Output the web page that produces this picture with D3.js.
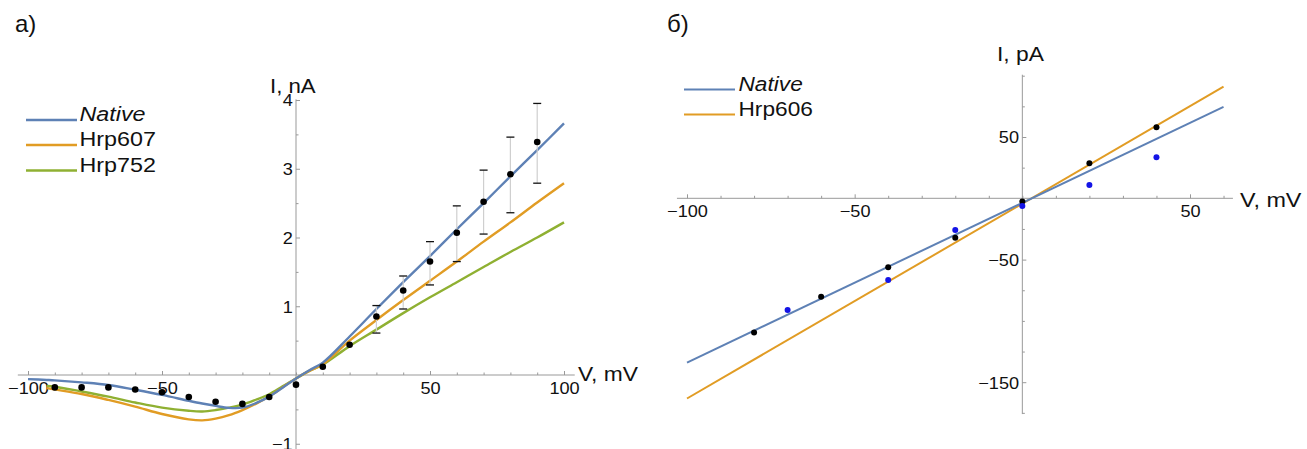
<!DOCTYPE html>
<html>
<head>
<meta charset="utf-8">
<script src="https://cdn.jsdelivr.net/npm/d3@7"></script>
<style>
  html, body { margin: 0; padding: 0; background: #fff; }
  svg { display: block; }
  text { font-family: "Liberation Sans", Arial, sans-serif; fill: #111; }
</style>
</head>
<body>
<svg id="chart" width="1307" height="449"></svg>
<script>
// ---------- Panel a: whole-cell current, nA ----------
const measV      = [-90, -80, -70, -60, -50, -40, -30, -20, -10, 0, 10, 20, 30, 40, 50, 60, 70, 80, 90];
const measI      = [-0.18, -0.18, -0.18, -0.21, -0.25, -0.32, -0.39, -0.42, -0.32, -0.14, 0.12, 0.44, 0.85, 1.23, 1.65, 2.07, 2.52, 2.92, 3.39];
const errV       = [30, 40, 50, 60, 70, 80, 90];
const errHigh    = [1.01, 1.44, 1.94, 2.46, 2.98, 3.46, 3.95];
const errLow     = [0.61, 0.96, 1.31, 1.65, 2.05, 2.36, 2.79];

const fitV       = [-100, -93, -90, -80, -70, -60, -50, -40, -35, -30, -25, -20, -15, -10, -5, 0, 5, 10, 20, 30, 40, 50, 60, 70, 80, 90, 100];
const fitNative  = [-0.06, -0.072, -0.078, -0.107, -0.145, -0.215, -0.29, -0.375, -0.415, -0.45, -0.478, -0.475, -0.41, -0.315, -0.185, -0.05, 0.07, 0.18, 0.56, 0.96, 1.35, 1.73, 2.12, 2.50, 2.89, 3.27, 3.66];
const fitHrp607  = [null, -0.19, -0.21, -0.276, -0.363, -0.46, -0.567, -0.645, -0.66, -0.635, -0.585, -0.51, -0.42, -0.31, -0.18, -0.05, 0.06, 0.155, 0.50, 0.80, 1.09, 1.37, 1.65, 1.94, 2.22, 2.51, 2.79];
const fitHrp752  = [null, -0.16, -0.17, -0.24, -0.315, -0.40, -0.475, -0.52, -0.53, -0.51, -0.475, -0.43, -0.36, -0.28, -0.165, -0.05, 0.06, 0.15, 0.42, 0.66, 0.90, 1.13, 1.35, 1.57, 1.79, 2.00, 2.22];
const seriesA    = ["Native", "Hrp607", "Hrp752"];

const xTicksA    = d3.range(-100, 101, 10);
const xLabelsA   = [-100, -50, 50, 100];
const yTicksA    = [-1, -0.5, 0.5, 1, 1.5, 2, 2.5, 3, 3.5, 4];
const yLabelsA   = [-1, 1, 2, 3, 4];

// ---------- Panel б: single-channel current, pA ----------
const lineV      = [-100, 60];
const lineNative = [-134, 74.5];
const lineHrp606 = [-163.3, 91];
const seriesB    = ["Native", "Hrp606"];
const blackV     = [-80, -60, -40, -20, 0, 20, 40];
const blackI     = [-109.4, -80.3, -56.3, -32.2, -2.7, 28.6, 58];
const blueV      = [-70, -40, -20, 0, 20, 40];
const blueI      = [-91.2, -66.7, -25.9, -6.3, 10.9, 33.5];

const xTicksB    = d3.range(-100, 61, 10);
const xLabelsB   = [-100, -50, 50];
const yTicksB    = d3.range(-175, 101, 25).filter(d => d !== 0);
const yLabelsB   = [-150, -50, 50];

const COLORS = { blue: "#5e81b5", orange: "#e19c24", green: "#8fb032" };
const AXIS = "#999";
const fmt = d3.format("d");

const svg = d3.select("#chart");

// Text helper with a slight horizontal widening of the glyphs
function label(g, x, y, str, size, opts = {}) {
  const k = opts.k ?? 1.12;
  return g.append("text")
    .attr("transform", `translate(${x},${y}) scale(${k},1)`)
    .attr("font-size", size)
    .attr("font-style", opts.italic ? "italic" : null)
    .attr("font-family", opts.family || null)
    .attr("text-anchor", opts.anchor || "start")
    .text(str);
}

function drawAxes(g, x, y, cfg) {
  // axis lines through the origin
  g.append("line")
    .attr("x1", x(cfg.xExtent[0])).attr("x2", x(cfg.xExtent[1]))
    .attr("y1", y(0)).attr("y2", y(0))
    .attr("stroke", AXIS).attr("stroke-width", 1);
  g.append("line")
    .attr("x1", x(0)).attr("x2", x(0))
    .attr("y1", y(cfg.yExtent[0])).attr("y2", y(cfg.yExtent[1]))
    .attr("stroke", AXIS).attr("stroke-width", 1);

  // x ticks (pointing up) with labels below
  const xAxis = g.append("g").attr("transform", `translate(0,${y(0)})`)
    .call(d3.axisBottom(x).tickValues(cfg.xTicks)
      .tickSize(0).tickSizeOuter(0)
      .tickFormat(d => cfg.xLabels.includes(d) ? fmt(d) : ""));
  xAxis.select(".domain").remove();
  xAxis.selectAll(".tick line")
    .attr("y2", d => cfg.xLabels.includes(d) ? -4 : -2.5)
    .attr("stroke", AXIS);
  xAxis.selectAll(".tick text")
    .attr("y", 13).attr("dy", "0.36em")
    .attr("font-size", cfg.tickFont)
    .attr("fill", "#111")
    .attr("font-family", "Liberation Sans, Arial, sans-serif")
    .attr("transform", "scale(1.1,1)");

  // y ticks (pointing right) with labels on the left
  const yAxis = g.append("g").attr("transform", `translate(${x(0)},0)`)
    .call(d3.axisRight(y).tickValues(cfg.yTicks)
      .tickSize(0).tickSizeOuter(0)
      .tickFormat(d => cfg.yLabels.includes(d) ? fmt(d) : ""));
  yAxis.select(".domain").remove();
  yAxis.selectAll(".tick line")
    .attr("x2", d => cfg.yLabels.includes(d) ? 4 : 2.5)
    .attr("stroke", AXIS);
  yAxis.selectAll(".tick text")
    .attr("x", -3).attr("dy", "0.36em")
    .attr("text-anchor", "end")
    .attr("font-size", cfg.tickFont)
    .attr("fill", "#111")
    .attr("font-family", "Liberation Sans, Arial, sans-serif")
    .attr("transform", "scale(1.1,1)");
}

// ================= Panel a =================
{
  const g = svg.append("g");
  const x = d3.scaleLinear().domain([-100, 100]).range([28, 564]);
  const y = d3.scaleLinear().domain([0, 4]).range([375, 100]);

  drawAxes(g, x, y, {
    xExtent: [-103.8, 104], yExtent: [-1.1, 4.01],
    xTicks: xTicksA, xLabels: xLabelsA,
    yTicks: yTicksA, yLabels: yLabelsA, tickFont: 16.5
  });

  const fits = [fitNative, fitHrp607, fitHrp752];
  const cols = [COLORS.blue, COLORS.orange, COLORS.green];
  const line = d3.line()
    .defined(d => d[1] !== null)
    .x(d => x(d[0])).y(d => y(d[1]))
    .curve(d3.curveCatmullRom.alpha(0.5));

  // draw back to front so the blue fit sits on top
  [2, 1, 0].forEach(i => {
    g.append("path")
      .datum(fitV.map((v, j) => [v, fits[i][j]]))
      .attr("d", line)
      .attr("fill", "none")
      .attr("stroke", cols[i])
      .attr("stroke-width", 2.4)
      .attr("stroke-linejoin", "round");
  });

  // error bars
  const eb = g.append("g");
  errV.forEach((v, i) => {
    eb.append("line")
      .attr("x1", x(v)).attr("x2", x(v))
      .attr("y1", y(errHigh[i])).attr("y2", y(errLow[i]))
      .attr("stroke", "#cfcfcf").attr("stroke-width", 1.2);
    [errHigh[i], errLow[i]].forEach(e => {
      eb.append("line")
        .attr("x1", x(v) - 4).attr("x2", x(v) + 4)
        .attr("y1", y(e)).attr("y2", y(e))
        .attr("stroke", "#111").attr("stroke-width", 1.3);
    });
  });

  // mean points
  g.append("g").selectAll("circle")
    .data(measV.map((v, i) => [v, measI[i]]))
    .join("circle")
    .attr("cx", d => x(d[0])).attr("cy", d => y(d[1]))
    .attr("r", 3.3).attr("fill", "#000");

  // axis titles
  label(g, 270, 93, "I, nA", 19.5, { k: 1.14 });
  label(g, 578, 381, "V, mV", 20, { k: 1.14 });

  // legend
  const legY = [121, 146, 171.5];
  seriesA.forEach((name, i) => {
    g.append("line")
      .attr("x1", 26).attr("x2", 77)
      .attr("y1", legY[i] - 1).attr("y2", legY[i] - 1)
      .attr("stroke", cols[i]).attr("stroke-width", 2.4);
    label(g, 79.5, legY[i], name, 21, { italic: i === 0, k: 1.11 });
  });

  // panel letter
  label(g, 15, 32, "a)", 24, { family: "Liberation Serif, Times New Roman, serif", k: 1 });
}

// ================= Panel б =================
{
  const g = svg.append("g");
  const x = d3.scaleLinear().domain([-100, 50]).range([687, 1190]);
  const y = d3.scaleLinear().domain([0, 50]).range([198.3, 137]);

  drawAxes(g, x, y, {
    xExtent: [-103, 62.8], yExtent: [-176, 100.8],
    xTicks: xTicksB, xLabels: xLabelsB,
    yTicks: yTicksB, yLabels: yLabelsB, tickFont: 16.5
  });

  const lines = [lineNative, lineHrp606];
  const cols = [COLORS.blue, COLORS.orange];
  const line = d3.line().x(d => x(d[0])).y(d => y(d[1]));
  [1, 0].forEach(i => {
    g.append("path")
      .datum(lineV.map((v, j) => [v, lines[i][j]]))
      .attr("d", line)
      .attr("fill", "none")
      .attr("stroke", cols[i])
      .attr("stroke-width", 2);
  });

  g.append("g").selectAll("circle")
    .data(blackV.map((v, i) => [v, blackI[i]]))
    .join("circle")
    .attr("cx", d => x(d[0])).attr("cy", d => y(d[1]))
    .attr("r", 3).attr("fill", "#000");

  g.append("g").selectAll("circle")
    .data(blueV.map((v, i) => [v, blueI[i]]))
    .join("circle")
    .attr("cx", d => x(d[0])).attr("cy", d => y(d[1]))
    .attr("r", 3).attr("fill", "#1414e6");

  label(g, 997, 60.5, "I, pA", 20, { k: 1.14 });
  label(g, 1240, 206.5, "V, mV", 20.5, { k: 1.14 });

  const legY = [91, 116];
  seriesB.forEach((name, i) => {
    g.append("line")
      .attr("x1", 684).attr("x2", 735)
      .attr("y1", legY[i] - 1.5).attr("y2", legY[i] - 1.5)
      .attr("stroke", cols[i]).attr("stroke-width", 2.2);
    label(g, 738.5, legY[i], name, 21, { italic: i === 0, k: 1.08 });
  });

  label(g, 667, 32, "б)", 24, { family: "Liberation Serif, Times New Roman, serif", k: 1 });
}
</script>
</body>
</html>
